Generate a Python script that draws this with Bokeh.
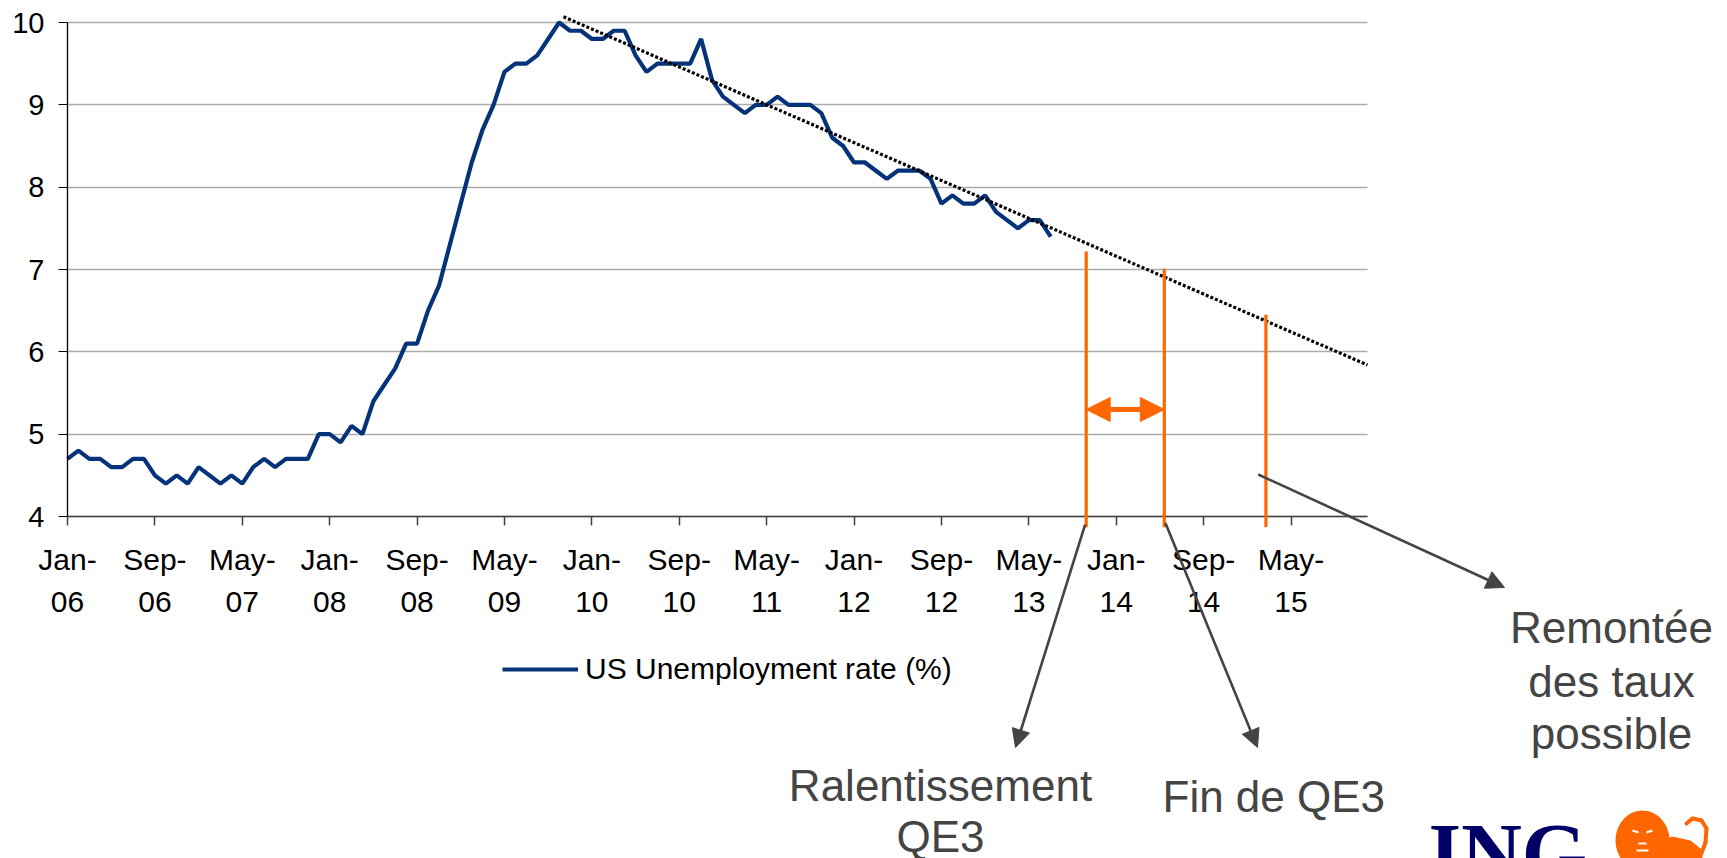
import numpy as np
from bokeh.plotting import figure
from bokeh.models import (Range1d, FixedTicker, Label, Arrow, NormalHead,
                          Legend, LegendItem, PolyAnnotation)
from bokeh.embed import file_html
from bokeh.resources import INLINE

# US unemployment rate (%), monthly, seasonally adjusted
rate_2006 = [4.7, 4.8, 4.7, 4.7, 4.6, 4.6, 4.7, 4.7, 4.5, 4.4, 4.5, 4.4]
rate_2007 = [4.6, 4.5, 4.4, 4.5, 4.4, 4.6, 4.7, 4.6, 4.7, 4.7, 4.7, 5.0]
rate_2008 = [5.0, 4.9, 5.1, 5.0, 5.4, 5.6, 5.8, 6.1, 6.1, 6.5, 6.8, 7.3]
rate_2009 = [7.8, 8.3, 8.7, 9.0, 9.4, 9.5, 9.5, 9.6, 9.8, 10.0, 9.9, 9.9]
rate_2010 = [9.8, 9.8, 9.9, 9.9, 9.6, 9.4, 9.5, 9.5, 9.5, 9.5, 9.8, 9.3]
rate_2011 = [9.1, 9.0, 8.9, 9.0, 9.0, 9.1, 9.0, 9.0, 9.0, 8.9, 8.6, 8.5]
rate_2012 = [8.3, 8.3, 8.2, 8.1, 8.2, 8.2, 8.2, 8.1, 7.8, 7.9, 7.8, 7.8]
rate_2013 = [7.9, 7.7, 7.6, 7.5, 7.6, 7.6, 7.4]

# months counted from Jan-06
tick_months = [0, 8, 16, 24, 32, 40, 48, 56, 64, 72, 80, 88, 96, 104, 112]
tick_labels = ["Jan-\n06", "Sep-\n06", "May-\n07", "Jan-\n08", "Sep-\n08",
               "May-\n09", "Jan-\n10", "Sep-\n10", "May-\n11", "Jan-\n12",
               "Sep-\n12", "May-\n13", "Jan-\n14", "Sep-\n14", "May-\n15"]
y_ticks = [4, 5, 6, 7, 8, 9, 10]
x_span = (0, 119)          # Jan-06 .. Dec-15
y_span = (4, 10)

# linear trend of the decline, extended to the end of 2015
trend_months = [45.4, 119]
trend_values = [10.07, 5.84]

# policy milestones: taper start, end of QE3, possible rate rise
event_months = [93.25, 100.4, 109.7]
event_tops = [7.22, 7.01, 6.45]
event_floor = 3.87
gap_arrow_level = 5.30

rates = rate_2006 + rate_2007 + rate_2008 + rate_2009 + rate_2010 + rate_2011 + rate_2012 + rate_2013
months = list(range(len(rates)))

ORANGE = "#ff6600"
NAVY = "#04337a"
GREY = "#444444"
FONT = "Liberation Sans"

# page size and where the plotting area sits on it (pixels from top-left)
W, H = 1727, 858
PL, PT, PR, PB = 67, 22, 1367, 516

# the frame fills the whole page; ranges are widened so the data area
# lands on the box above and the captions can sit around it
ppx = (PR - PL) / (x_span[1] - x_span[0])
ppy = (PB - PT) / (y_span[1] - y_span[0])
x_range = Range1d(x_span[0] - PL / ppx, x_span[1] + (W - PR) / ppx)
y_range = Range1d(y_span[0] - (H - PB) / ppy, y_span[1] + PT / ppy)


def sx(X):
    return X


def sy(Y):
    return H - Y


p = figure(width=W, height=H, x_range=x_range, y_range=y_range,
           output_backend="svg", toolbar_location=None, title=None,
           min_border=0, outline_line_color=None,
           background_fill_color="white", border_fill_color="white")

# axes pinned to the data area's edges
p.xaxis.fixed_location = y_span[0]
p.xaxis.bounds = x_span
p.yaxis.fixed_location = x_span[0]
p.yaxis.bounds = y_span
p.xaxis.ticker = FixedTicker(ticks=tick_months)
p.xaxis.major_label_overrides = {m: lab for m, lab in zip(tick_months, tick_labels)}
p.yaxis.ticker = FixedTicker(ticks=y_ticks)
for ax in (p.xaxis, p.yaxis):
    ax.minor_tick_line_color = None
    ax.major_tick_in = 0
    ax.major_tick_out = 9
    ax.major_label_text_font = FONT
    ax.major_label_text_color = "black"
p.xaxis.major_label_text_font_size = "30px"
p.yaxis.major_label_text_font_size = "29px"
p.xaxis.axis_line_color = "#404040"
p.xaxis.major_tick_line_color = "#404040"
p.xaxis.axis_line_width = 1.5
p.xaxis.major_tick_line_width = 1.5
p.xaxis.major_label_standoff = 17
p.xaxis.major_label_text_line_height = 1.3
p.yaxis.axis_line_color = "black"
p.yaxis.major_tick_line_color = "black"
p.yaxis.axis_line_width = 1.3
p.yaxis.major_label_standoff = 14

p.xgrid.visible = False
p.ygrid.grid_line_color = "#ababab"
p.ygrid.grid_line_width = 1.5
p.ygrid[0].cross_bounds = x_span

# data line and trend
r = p.line(months, rates, line_color=NAVY, line_width=4.2)
p.line(trend_months, trend_values, line_color="black", line_width=3.2,
       line_dash="3 2", line_cap="butt")

# milestone markers
for m, top in zip(event_months, event_tops):
    p.add_layout(Arrow(x_start=m, y_start=event_floor, x_end=m, y_end=top,
                       start=None, end=None, line_color=ORANGE, line_width=3.2))

p.add_layout(Arrow(x_start=event_months[0], y_start=gap_arrow_level,
                   x_end=event_months[1], y_end=gap_arrow_level,
                   start=NormalHead(size=24, fill_color=ORANGE, line_color=ORANGE),
                   end=NormalHead(size=24, fill_color=ORANGE, line_color=ORANGE),
                   line_color=ORANGE, line_width=5))

# pointers to the captions
pointer_starts = [(event_months[0] - 0.1, 3.90), (event_months[1] + 0.1, 3.92), (109.0, 4.51)]
pointer_ends = [(1015, 747), (1257, 747), (1504, 587)]
for (xs, ys), (xe, ye) in zip(pointer_starts, pointer_ends):
    p.add_layout(Arrow(x_start=xs, y_start=ys, start_units="data",
                       x_end=sx(xe), y_end=sy(ye), end_units="screen",
                       end=NormalHead(size=18, fill_color=GREY, line_color=GREY),
                       line_color=GREY, line_width=2.6))


def caption(text, X, baseline, align="center", size=44, color=GREY, font=FONT,
            style="normal", centre_ratio=0.3465):
    # labels are centred vertically on y, so shift from the baseline to the box middle
    Y = baseline - centre_ratio * size
    p.add_layout(Label(x=sx(X), y=sy(Y), x_units="screen", y_units="screen", text=text,
                       text_align=align, text_baseline="middle",
                       text_font=font, text_font_size=f"{size}px", text_color=color,
                       text_font_style=style))


caption("Ralentissement", 940, 800)
caption("QE3", 940, 851)
caption("Fin de QE3", 1162, 811, align="left")
caption("Remontée", 1611, 642)
caption("des taux", 1611, 696)
caption("possible", 1611, 748)

# legend below the chart
legend = Legend(items=[LegendItem(label="US Unemployment rate (%)", renderers=[r])],
                location=(502, H - 686), glyph_width=76, glyph_height=34, label_height=34,
                label_standoff=7, padding=0, margin=0, spacing=0,
                border_line_color=None, background_fill_alpha=0,
                label_text_font=FONT, label_text_font_size="30px", label_text_color="black")
p.add_layout(legend)

# ING logo: word mark and lion
caption("ING", 1428, 881, align="left", size=84, color="#000066",
        font="Liberation Serif", style="bold", centre_ratio=0.3375)
t = np.linspace(0, 2 * np.pi, 48)
head_x = 1642 + 27 * np.cos(t)
head_y = 840 + 30 * np.sin(t)
body_x = [1650, 1702, 1700, 1690, 1672, 1656]
body_y = [858, 858, 848, 840, 836, 842]
for px_, py_ in ((head_x, head_y), (body_x, body_y)):
    p.add_layout(PolyAnnotation(xs=[sx(v) for v in px_], ys=[sy(v) for v in py_],
                                xs_units="screen", ys_units="screen",
                                fill_color=ORANGE, fill_alpha=1, line_color=None))
tail = [(1699, 858), (1705, 842), (1706, 828), (1701, 820), (1692, 818), (1686, 823)]
for (x0, y0), (x1, y1) in zip(tail[:-1], tail[1:]):
    p.add_layout(Arrow(x_start=sx(x0), y_start=sy(y0), x_end=sx(x1), y_end=sy(y1),
                       start_units="screen", end_units="screen", start=None, end=None,
                       line_color=ORANGE, line_width=4, line_cap="round"))
# face marks on the lion's head
face = [((1632, 830), (1638, 832)), ((1646, 832), (1652, 830)),
        ((1638, 843), (1646, 843)), ((1636, 850), (1648, 850))]
for (x0, y0), (x1, y1) in face:
    p.add_layout(Arrow(x_start=sx(x0), y_start=sy(y0), x_end=sx(x1), y_end=sy(y1),
                       start_units="screen", end_units="screen", start=None, end=None,
                       line_color="white", line_width=2))

open("out.html", "w").write(file_html(p, INLINE))
